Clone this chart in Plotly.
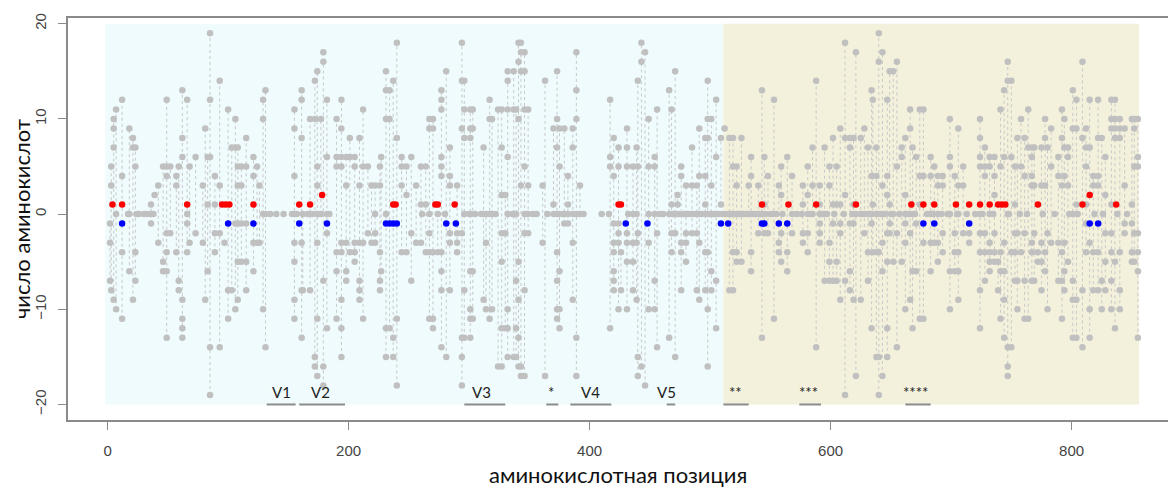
import plotly.graph_objects as go

# ---------------- data ----------------
col_x = [2, 3, 5, 7, 12, 18, 21, 23, 26, 32, 36, 39, 42, 46, 49, 52, 57, 59, 62, 66, 68, 73, 79, 81, 83, 85,
         89, 93, 97, 100, 103, 106, 108, 111, 115, 121, 124, 126, 129, 131,
         155, 161, 162, 168, 172, 174, 177, 179, 182, 190, 194, 198, 201, 205, 209, 212, 216, 219, 222, 226,
         227, 231, 234, 237, 240, 244, 248, 252, 256, 260, 264, 267, 270, 274, 277, 281,
         284, 290, 294, 296, 301, 303, 312, 314, 317, 319, 324, 327, 330, 332, 337, 339, 341, 343, 346, 349,
         361, 363, 370, 373, 375, 379, 382, 386, 389, 392, 417, 420, 424, 426,
         431, 436, 439, 440, 443, 446, 449, 454, 456, 466, 468, 471, 473, 476, 480, 485, 489, 491, 496, 498,
         501, 505, 509, 512, 516, 519, 522, 526, 532, 534, 540, 543, 545, 548, 553, 557, 559, 564, 568,
         577, 581, 585, 588, 591, 595, 599, 602, 605, 608, 612, 616, 619, 621, 625, 628, 631, 634, 635, 638,
         640, 643, 647, 649, 652, 655, 659, 662, 666, 668, 671, 674, 677, 683, 686, 689, 693, 699, 703, 706,
         710, 715,
         724, 728, 732, 736, 739, 741, 744, 747, 750, 753, 755, 758, 761, 764, 767, 769, 772, 775, 778, 780,
         783, 789, 792, 794, 797, 801, 804, 809, 812, 815, 818, 822, 825, 828, 833, 836, 840, 844, 850, 852, 855]

col_vals = [
    [-1, -3, -7], [5, 3, -8], [10, 9, 7, -9], [11, 0, -10], [12, 4, -4, -11], [9, 0, -6], [8, 7, -9],
    [7, 5, -4, -7], [0], [0], [1, -1], [2], [3, -3], [5, -5, -6], [12, 5, 4, -2, -4, -6, -13], [5, -2],
    [4, 3, -4], [5, -7, -8], [13, 8, 6, -9, -11, -12, -13], [12, 0, -1, -4], [5, -3], [6, -2], [3, -3],
    [9, -9], [6, 1, -6], [19, 12, 6, -14, -19],
    [4, 1, -2, -4], [14, 3, -2, -14], [-3], [11, -8, -11], [7, -8], [10, 7, -1, -10], [7, 5, 3, -1, -5, -9],
    [5, 3, -1, -5], [8, 5, -1, -5, -8], [6, 4, -3, -6], [5, -3], [3, -3], [12, 10, 0, -10], [13, 0, -14],
    [11, 9, 4, 0, -3, -5, -9, -11], [13, 12, 8, -3, -8, -13], [0, -8], [10, 0, -8], [14, 10, -15, -16],
    [15, 5, 3, 0, -3, -11, -17], [10, 0], [17, 16, -7, -16, -18], [12, 6, 0, -2, -12], [10, 6, 5, -4, -6, -11],
    [12, 9, 6, 5, -3, -4, -9, -12, -15], [6, 3, -3, -6, -7], [8, 6, -4], [6, 5, -3, -4, -5],
    [8, 3, -3, -7, -8, -9], [11, 5, -3, -11], [5, -2], [3, -3], [3, 0, -2, -3], [5, 3, -4, -7, -8],
    [6, -6], [15, 13, 10, 0, -12, -15], [13, 10, -12], [14, -13, -15], [18, 8, -11, -18], [6, 5, 3, -4],
    [5, 2, -4], [6, -2, -7], [3, -3], [5, 1, -3], [5, 1, -4], [10, 9, -2, -4, -11], [10, 9, -4, -11, -12],
    [0, -4], [13, 12, 11, 6, 5, 4, -4, -6, -8, -14], [15, -15],
    [7, 4, 3, -2, -3, -8], [3, -2, -3, -4], [18, 14, 9, -2, -13, -15, -18], [14, 11, 8, 0, -8, -13],
    [11, 9, 8, 0, -6, -10, -11, -13], [11, 9, -6, -11], [7, 0, -9], [0, -3, -10], [12, 10, 0, -11],
    [10, 0, -10], [11, -16], [11, 7, 2, -2, -5, -12, -16], [2, -2, -12], [15, 14, 11, 6, 0, -10, -12, -15],
    [15, 11, 0, -15], [11, 0, -7, -12, -15], [18, 16, 10, -5, -9, -13, -16], [18, 17, 15, 3, -16, -17],
    [17, 15, 11, 5, 0, -2, -8, -17], [11, 3, 0, -2],
    [3, -3], [14, -17], [9, 1, 0], [15, 10, 7, 0, -4, -7, -10, -11], [9, 5, 0, -6, -10, -12], [9, 0, -1],
    [4, 1, 0, -1], [9, 7, 0, -3, -9], [17, 13, 10, 0, -13, -17], [3, 0], [12, 6, 5, -12],
    [8, 4, -1, -3, -4, -6, -7, -8], [7, 5, -1, -2, -3, -10], [-4, -8],
    [9, 7, 5, -2, -3, -5, -10], [5, 0, -3, -5, -8], [7, 0, -3, -9], [14, 5, -2, -15, -17], [18, 16, -16],
    [17, -18], [10, 5, 0, -3, -10], [6, 5, 0, -7, -10], [11, -2, -14], [13, 0, -13], [11, 1, -2, -4],
    [15, 0, -2, -15], [2, 1, 0], [5, 4, -3, -4, -8], [3, 0, -2, -3, -5], [7, 3, 0, -2], [3, 0, -2, -8],
    [9, 4, 0, -3, -9], [8, 4, 1, 0, -4, -8], [14, 10, 8, 0, -4, -10, -16],
    [10, 3, 0, -6, -8], [12, 6, 0, -7, -12], [8, 1], [9], [8, 0, -8], [8, 5, -4, -8], [5, 3, -4, -5],
    [8, 0, -5], [3, 0], [6, 4, -4, -6], [3, 0, -2], [13, 0, -13], [6, 1, -2], [4, -2], [12, -11],
    [3, -3, -4], [5, 2, -2, -5], [6, -4, -6], [4, 0, -2],
    [3, 1, -2, -3], [5, 2, 0, -2, -4], [7, 3, 0], [14, -14], [3, 1, 0, -1, -2, -3], [7, 0, -7],
    [5, 3, -3, -5, -7], [8, 1, -1, -7], [5, 1, -5, -7], [9, 1, -1, -2, -9], [18, 8, 2, -7, -19],
    [8, 7, -1, -6, -8], [8, 1, -1, -9], [17, 0, -17], [8, 0, -9], [9, 0, -2], [7, 0, -4, -7],
    [13, 4, 0, -1, -12], [12, 1, -4], [7, 4, 0, -4, -15],
    [19, 16, -4, -15, -19], [17, 3, 0, -3, -6, -17], [12, 4, 2, -2, -5, -12, -15], [15, 1, -1, -2],
    [15, 0, -5], [16, 5, -2, -14], [7, 6, -5], [8, 2, 0, -1, -3, -10], [11, 9, 0, -2, -9], [7, 0, -6, -12],
    [6, -1, -6], [11, 4, 1, -11], [11, 4, -3, -11], [6, 4, 0, -3, -6], [5, -3], [4, 3, 0, -3, -5],
    [4, 3, -2, -4], [10, 6, 5, 0, -6, -10], [4, -2, -4, -6], [9, 3, 0, -4, -6, -9],
    [5, 3, -2], [-2, -3],
    [10, 8, 6, 5, 0, -2, -4, -8, -12], [7, 5, 4, -2, -4, -7], [6, 5, 0, -3, -4, -5, -6],
    [6, 4, 2, -2, -4, -5], [-5, -8], [11, 5, -4, -6, -11], [13, 6, -3, -6, -9, -13],
    [16, 14, 0, -14, -16, -17], [14, 6, -4, -14], [5, 1, -2, -4, -7], [8, -2, -7, -10], [10, 5, -4],
    [8, 4, -2, -7, -11], [11, 7, -11], [7, 6, 4, 3, -3, -4, -7], [7, 3, -2, -7], [-4, -5],
    [7, 3, -3, -5, -8], [10, 8, 3, -4, -6], [7, -2, -10],
    [9, 5, -3], [6, 4, -3, -7], [11, 8, 3, -4, -7, -11], [10, 7, 4, -3, -6, -8], [7, 6, 3, -5],
    [13, 9, 0, -7, -9, -13], [12, 9, 1, -9, -13], [16, 8, -8, -14], [9, 7, 5, 1, -1, -4],
    [12, 7, -3, -10, -13], [4, 3, -4, -8], [12, 8, 4, 3, -4, -8], [8, -7, -10], [6, 2, -2, -5, -8],
    [12, 10, 9, 1, -2, -4, -7, -10], [12, 10, 9, 8, -5, -12], [10, 9, 8, -4, -8, -10], [9, 3, -1, -2],
    [10, 1, -1, -4, -5], [10, 9, 5, -2, -5], [10, 6, 5, -2, -4, -6, -13],
]

zero_x = [17, 24, 30, 35, 38, 135, 140, 146, 153, 157, 166, 170, 175, 184, 261, 267,
          280, 300, 305, 310, 322, 336, 348, 353, 356, 365, 378, 395, 410, 416, 432, 458, 461, 469, 470,
          474, 478, 482, 484, 487, 490, 493, 499, 502, 504, 507, 510, 513, 517, 520, 523, 525, 528, 530,
          533, 536, 538, 541, 546, 550, 552, 555, 560, 572, 576, 583, 593, 597, 603, 611, 618, 626, 632,
          641, 645, 650, 657, 664, 670, 680, 685, 692, 697, 705, 713, 720, 726, 735, 748, 757, 763, 776,
          786, 798, 805, 819, 826, 838, 846]

red_x = [4, 12, 66, 95, 98, 101, 121, 159, 168, 178, 237, 239, 272, 274, 288, 424, 426, 543, 565, 588,
         621, 667, 677, 686, 704, 715, 724, 732, 739, 742, 745, 772, 809, 815, 837]
red_y = [1, 1, 1, 1, 1, 1, 1, 1, 1, 2, 1, 1, 1, 1, 1, 1, 1, 1, 1, 1,
         1, 1, 1, 1, 1, 1, 1, 1, 1, 1, 1, 1, 1, 2, 1]

blue_x = [12, 100, 121, 159, 182, 231, 234, 237, 240, 281, 289, 430, 448, 509, 515, 543, 545, 557, 564,
          677, 686, 715, 815, 822]
blue_y = [-1] * len(blue_x)

regions = [("V1", 132, 156, 144), ("V2", 159, 197, 177), ("V3", 296, 330, 310), ("*", 364, 374, 368),
           ("V4", 384, 418, 401), ("V5", 464, 471, 464), ("**", 511, 532, 521), ("***", 574, 592, 582),
           ("****", 662, 683, 671)]

domain1 = (-2, 511)
domain2 = (511, 856)

# ---------------- build traces ----------------
line_x, line_y = [], []
pts_x, pts_y = [], []
for x, vals in zip(col_x, col_vals):
    pts_x += [x] * len(vals)
    pts_y += vals
    if len(vals) > 1:
        line_x += [x, x, None]
        line_y += [min(vals), max(vals), None]
pts_x += zero_x
pts_y += [0] * len(zero_x)

fig = go.Figure()
fig.add_trace(go.Scatter(x=line_x, y=line_y, mode="lines", hoverinfo="skip",
                         line=dict(color="#c8c8c8", width=1, dash="dot")))
fig.add_trace(go.Scatter(x=pts_x, y=pts_y, mode="markers",
                         marker=dict(color="#c0c0c0", size=6.5)))
fig.add_trace(go.Scatter(x=red_x, y=red_y, mode="markers", marker=dict(color="#ff0000", size=6.5)))
fig.add_trace(go.Scatter(x=blue_x, y=blue_y, mode="markers", marker=dict(color="#0000ff", size=6.5)))

shapes = [
    dict(type="rect", xref="x", yref="y", x0=domain1[0], x1=domain1[1], y0=-20, y1=20,
         fillcolor="#effbfc", line=dict(width=0), layer="below"),
    dict(type="rect", xref="x", yref="y", x0=domain2[0], x1=domain2[1], y0=-20, y1=20,
         fillcolor="#f3f1dc", line=dict(width=0), layer="below"),
]
annotations = []
for name, a, b, c in regions:
    shapes.append(dict(type="line", xref="x", yref="y", x0=a, x1=b, y0=-20, y1=-20,
                       line=dict(color="#8c8c8c", width=2)))
    annotations.append(dict(x=c, y=-18.7, xref="x", yref="y", text=name, showarrow=False,
                            font=dict(family="Lato, Open Sans, sans-serif", size=15, color="#222222")))

annotations.append(dict(x=0.5, y=0, xref="paper", yref="paper", yshift=-54, xanchor="center",
                        yanchor="middle", text="аминокислотная позиция", showarrow=False,
                        font=dict(family="Lato, Open Sans, sans-serif", size=22, color="#111111")))
annotations.append(dict(x=0, y=0.5, xref="paper", yref="paper", xshift=-47, xanchor="center",
                        yanchor="middle", text="число аминокислот", textangle=-90, showarrow=False,
                        font=dict(family="Lato, Open Sans, sans-serif", size=22, color="#111111")))

fig.update_layout(
    width=1168, height=487,
    margin=dict(l=68, r=0, t=18, b=67),
    paper_bgcolor="white", plot_bgcolor="white",
    showlegend=False,
    shapes=shapes, annotations=annotations,
    xaxis=dict(range=[-32.9, 880], tickvals=[0, 200, 400, 600, 800], showgrid=False, zeroline=False,
               showline=True, linecolor="#8a8a8a", linewidth=1.5, mirror=True,
               ticks="outside", ticklen=8, tickcolor="#8a8a8a", ticklabelstandoff=8,
               tickfont=dict(family="Liberation Sans, Arial, sans-serif", size=15, color="#444444")),
    yaxis=dict(range=[-21.63, 20.6], tickvals=[-20, -10, 0, 10, 20], showgrid=False, zeroline=False,
               showline=True, linecolor="#8a8a8a", linewidth=1.5, mirror=False,
               ticks="outside", ticklen=8, tickcolor="#8a8a8a", tickangle=-90, ticklabelstandoff=6,
               tickfont=dict(family="Liberation Sans, Arial, sans-serif", size=15, color="#444444")),
)

fig.write_html("out.html")
